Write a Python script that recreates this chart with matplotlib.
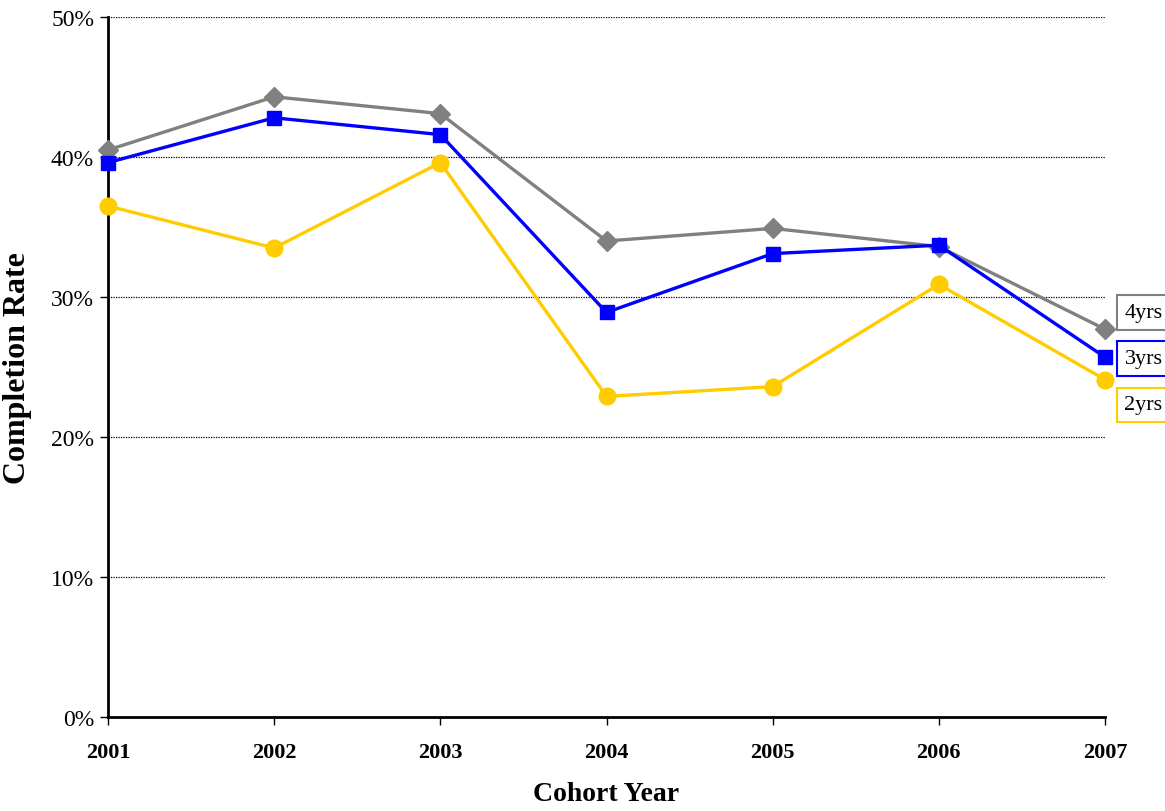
import matplotlib
matplotlib.use("Agg")
import matplotlib.pyplot as plt
from matplotlib.ticker import FuncFormatter

plt.rcParams['font.family'] = ['Liberation Serif', 'DejaVu Serif']

years = ["2001", "2002", "2003", "2004", "2005", "2006", "2007"]
rate_4yrs = [40.5, 44.3, 43.1, 34.0, 34.9, 33.6, 27.7]
rate_3yrs = [39.6, 42.8, 41.6, 28.9, 33.1, 33.7, 25.7]
rate_2yrs = [36.5, 33.5, 39.6, 22.9, 23.6, 30.9, 24.1]
y_ticks = [0, 10, 20, 30, 40, 50]

W, H = 1165, 812
fig = plt.figure(figsize=(W / 100, H / 100), dpi=100)
ax = fig.add_axes([108 / W, 1 - 718 / H, (1105 - 108) / W, (718 - 18) / H])

x = list(range(len(years)))
series = [
    (rate_4yrs, "#808080", "D", 10, "4yrs"),
    (rate_3yrs, "#0000FF", "s", 10, "3yrs"),
    (rate_2yrs, "#FFCC00", "o", 12, "2yrs"),
]

ax.set_xlim(0, len(years) - 1)
ax.set_ylim(0, 50)

for v in y_ticks[1:]:
    ax.axhline(v, color="black", linestyle=(0, (1, 1)), linewidth=0.9, zorder=1)

for vals, col, mk, ms, lab in series:
    ax.plot(x, vals, color=col, marker=mk, markersize=ms, linewidth=2.4,
            clip_on=False, zorder=3)

# series labels at the right edge
for (vals, col, mk, ms, lab), ly in zip(series, [28.9, 25.6, 22.3]):
    ax.annotate(lab, xy=(1.0, ly), xycoords=("axes fraction", "data"),
                xytext=(14, 0), textcoords="offset points",
                fontsize=16, va="center", ha="left", annotation_clip=False,
                bbox=dict(boxstyle="square,pad=0.35", fc="white", ec=col, lw=1.5))

ax.set_xticks(x)
ax.set_xticklabels(years, fontsize=16, fontweight="bold")
ax.set_yticks(y_ticks)
ax.yaxis.set_major_formatter(FuncFormatter(lambda v, p: "%d%%" % v))
ax.tick_params(axis="y", labelsize=17, length=6, width=1, direction="out", pad=4)
ax.tick_params(axis="x", length=6, width=1, direction="out", pad=12)

for s in ["top", "right"]:
    ax.spines[s].set_visible(False)
for s in ["left", "bottom"]:
    ax.spines[s].set_linewidth(2)

ax.set_xlabel("Cohort Year", fontsize=20, fontweight="bold", labelpad=14)
ax.set_ylabel("Completion Rate", fontsize=23, fontweight="bold", labelpad=14)

fig.savefig("out.png", dpi=100)
